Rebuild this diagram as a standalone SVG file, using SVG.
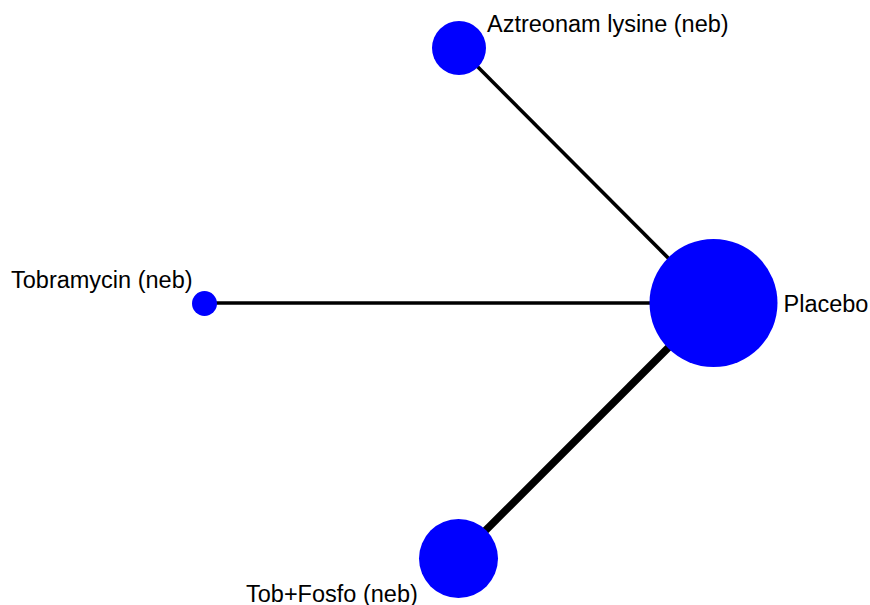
<svg xmlns="http://www.w3.org/2000/svg" width="870" height="605" viewBox="0 0 870 605">
<style>
.node{fill:#0000ff;stroke:none}
.lbl{font-family:"Liberation Sans",Arial,sans-serif;font-size:23.5px;fill:#000}
.edge{stroke:#000;stroke-linecap:butt;fill:none}
</style>
<rect width="870" height="605" fill="#fff"/>
<g id="connectors">
<line class="edge" x1="459" y1="48" x2="713" y2="303" stroke-width="3.6"/>
<line class="edge" x1="204" y1="303" x2="713" y2="303" stroke-width="3.4"/>
<line class="edge" x1="458" y1="558" x2="713" y2="303" stroke-width="7.5"/>
</g>
<g id="node-aztreonam">
<circle class="node" cx="459" cy="48" r="27"/>
<text class="lbl" x="487" y="32">Aztreonam lysine (neb)</text>
</g>
<g id="node-tobramycin">
<circle class="node" cx="204.5" cy="303.5" r="12.5"/>
<text class="lbl" x="11" y="287.5">Tobramycin (neb)</text>
</g>
<g id="node-placebo">
<circle class="node" cx="713.5" cy="303" r="64"/>
<text class="lbl" x="783.5" y="311.5">Placebo</text>
</g>
<g id="node-tobfosfo">
<circle class="node" cx="458.5" cy="558.5" r="39.5"/>
<text class="lbl" x="246" y="601.5">Tob+Fosfo (neb)</text>
</g>
</svg>
